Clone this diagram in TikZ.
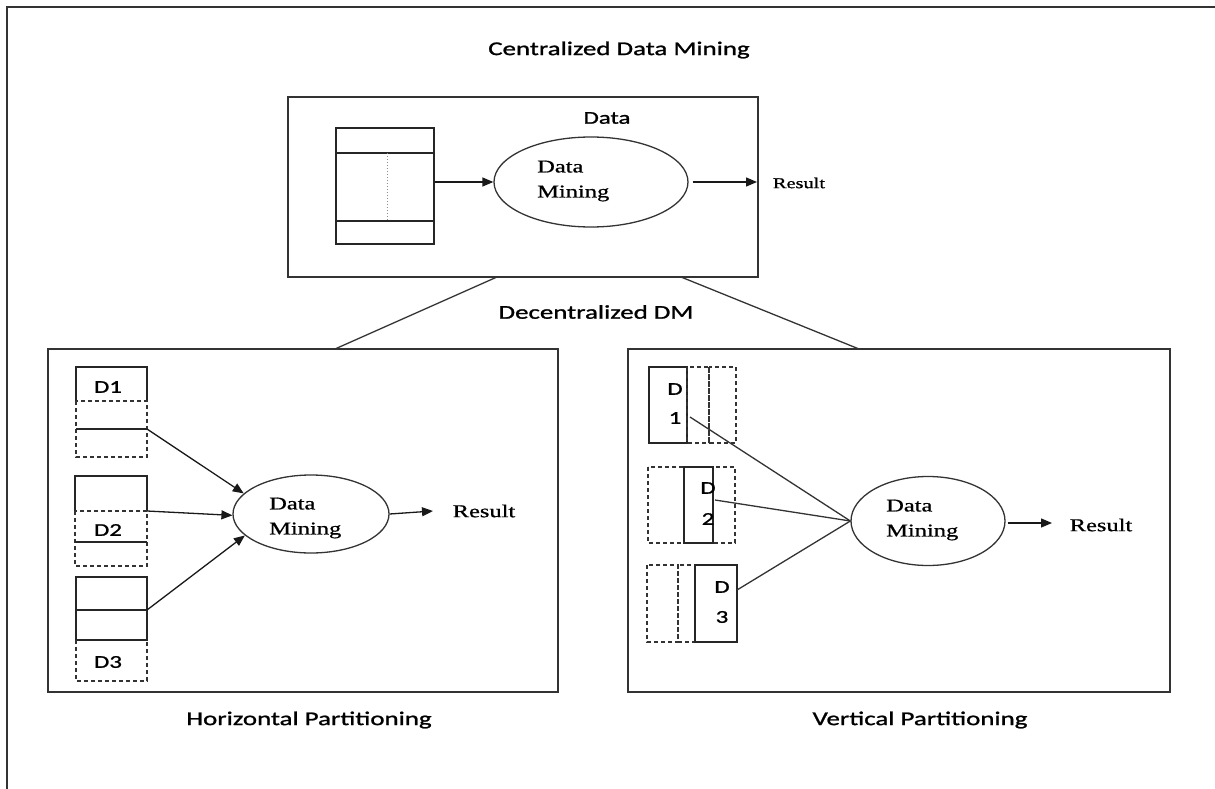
\documentclass[tikz,border=0pt]{standalone}
\usepackage{fontspec}
\setmainfont{Liberation Serif}
\newfontfamily\labfont[FakeStretch=1.38,FakeBold=1.2]{Carlito}
\newfontfamily\serfont[FakeStretch=1.36,FakeBold=0.8]{Liberation Serif}
\usetikzlibrary{shapes.geometric,arrows.meta}
\tikzset{
  x=1pt, y=-1pt,
  frameline/.style={line width=2.2pt, draw=black!80},
  boxline/.style={line width=1.4pt, draw=black!85},
  dboxline/.style={line width=1.4pt, draw=black!80, dash pattern=on 4pt off 3pt},
  thinline/.style={line width=1.3pt, draw=black!80},
  arr/.style={line width=1.3pt, draw=black!90, -{Triangle[length=11pt,width=9pt]}},
  dmell/.style={ellipse, draw=black!80, line width=1.3pt, inner sep=0pt},
  heading/.style={font=\labfont\fontsize{19.5}{22}\selectfont, inner sep=0pt},
  dlab/.style={font=\labfont\fontsize{18}{20}\selectfont, inner sep=0pt},
  sertext/.style={font=\serfont\fontsize{18}{25}\selectfont, inner sep=0pt, align=left, anchor=west},
  restext/.style={font=\serfont\fontsize{18}{20}\selectfont, inner sep=0pt},
  panel/.style={draw=black!80, line width=1.4pt, inner sep=0pt},
}
\begin{document}
\begin{tikzpicture}
\useasboundingbox (0,0) rectangle (1215,789);
% outer frame
\draw[frameline] (7,789) -- (7,7) -- (1215,7);

% titles
\node[heading] (tcent) at (619,50) {Centralized Data Mining};
\node[heading] (tdec) at (596,312) {Decentralized DM};
\node[heading] (thor) at (309,720) {Horizontal Partitioning};
\node[heading] (tver) at (920,720) {Vertical Partitioning};

% panels
\node[panel, minimum width=470pt, minimum height=180pt] (ptop) at (523,187) {};
\node[panel, minimum width=510pt, minimum height=343pt] (pleft) at (303,520.5) {};
\node[panel, minimum width=542pt, minimum height=343pt] (pright) at (899,520.5) {};
\coordinate (ltop) at (497,277);
\coordinate (lbot) at (335,349);
\coordinate (rtop) at (681,277);
\coordinate (rbot) at (859,349);
\draw[thinline] (ltop) -- (lbot);
\draw[thinline] (rtop) -- (rbot);

% ---------- top panel ----------
\node[dlab] (tdata) at (607,118) {Data};
\node[boxline, draw, minimum width=98pt, minimum height=116pt, inner sep=0pt] (tbl) at (385,186) {};
\draw[boxline] (336,153) -- (434,153);
\draw[boxline] (336,221) -- (434,221);
\draw[line width=1pt, draw=black!45, dotted] (387,153) -- (387,221);
\node[dmell, minimum width=194pt, minimum height=90pt] (etop) at (591,182) {};
\node[sertext] (etoptext) at (537,181) {Data\\Mining};
\draw[arr] (tbl.east |- etop) -- (etop.west);
\node[restext, font=\serfont\fontsize{15}{17}\selectfont] (rtopt) at (799,183) {Result};
\coordinate (rtoparr) at (757,182);
\draw[arr] (etop.east) ++(4,0) coordinate (etopout) -- (rtoparr);

% ---------- left panel (horizontal) ----------
% D1
\draw[boxline] (76,401) -- (76,367) -- (147,367) -- (147,401);
\draw[dboxline] (76,401) rectangle (147,457);
\draw[boxline] (76,429) -- (147,429);
\node[dlab] (ld1) at (108,387) {D1};
\coordinate (ld1out) at (147,429);
% D2
\draw[boxline] (75,511) -- (75,476) -- (147,476) -- (147,511);
\draw[dboxline] (75,511) rectangle (147,566);
\draw[boxline] (75,542) -- (147,542);
\node[dlab] (ld2) at (108,530) {D2};
\coordinate (ld2out) at (147,511);
% D3
\draw[boxline] (76,577) rectangle (147,640);
\draw[boxline] (76,610) -- (147,610);
\draw[dboxline] (76,640) -- (76,681) -- (147,681) -- (147,640);
\node[dlab] (ld3) at (108,662) {D3};
\coordinate (ld3out) at (147,610);
% ellipse
\node[dmell, minimum width=156pt, minimum height=78pt] (eleft) at (311,514) {};
\node[sertext] (elefttext) at (269,518) {Data\\Mining};
\draw[arr] (ld1out) -- (eleft.163);
\draw[arr] (ld2out) -- (eleft.181);
\draw[arr] (ld3out) -- (eleft.198);
\node[restext] (lres) at (484,511) {Result};
\coordinate (lresarr) at (433,511);
\draw[arr] (eleft.east) -- (lresarr);

% ---------- right panel (vertical) ----------
% D1
\draw[boxline] (649,367) rectangle (687,443);
\draw[dboxline] (687,367) rectangle (709,443);
\draw[dboxline] (709,367) rectangle (736,443);
\node[dlab] (rd1a) at (675,389) {D};
\node[dlab] (rd1b) at (675,418) {1};
\coordinate (rd1out) at (690,417);
% D2
\draw[dboxline] (648,467) rectangle (684,543);
\draw[dboxline] (713,467) rectangle (735,543);
\draw[boxline] (684,467) rectangle (713,543);
\node[dlab] (rd2a) at (708,488) {D};
\node[dlab] (rd2b) at (708,519) {2};
\coordinate (rd2out) at (715,500);
% D3
\draw[dboxline] (647,565) rectangle (678,642);
\draw[dboxline] (678,565) rectangle (695,642);
\draw[boxline] (695,565) rectangle (737,642);
\node[dlab] (rd3a) at (722,587) {D};
\node[dlab] (rd3b) at (722,617) {3};
\coordinate (rd3out) at (737,590);
% ellipse
\node[dmell, minimum width=154pt, minimum height=89pt] (eright) at (928,521) {};
\node[sertext] (erighttext) at (886,520) {Data\\Mining};
\draw[thinline] (rd1out) -- (eright.west);
\draw[thinline] (rd2out) -- (eright.west);
\draw[thinline] (rd3out) -- (eright.west);
\node[restext] (rres) at (1101,525) {Result};
\coordinate (rresarr) at (1052,523);
\draw[arr] (eright.east |- rresarr) ++(2,0) -- (rresarr);
\end{tikzpicture}
\end{document}
